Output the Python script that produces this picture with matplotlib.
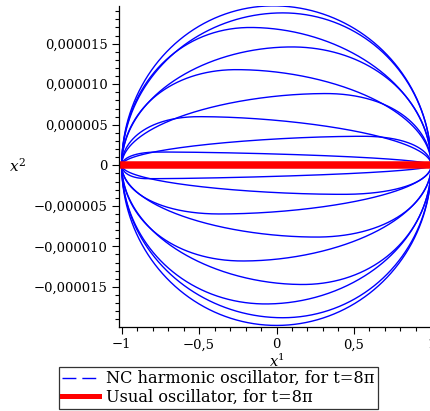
# coding: utf-8

# Imports
import matplotlib
matplotlib.use("Agg")
import matplotlib.pyplot as plt
from matplotlib.lines import Line2D
from matplotlib.ticker import MultipleLocator, FuncFormatter
import numpy as np

plt.rcParams['font.family'] = 'DejaVu Serif'
plt.rcParams['mathtext.fontset'] = 'dejavuserif'

# Arcs of the NC oscillator orbit: peak height (x2) and where it sits along x1
upper_amp = [1.967e-5, 1.88e-5, 1.70e-5, 1.46e-5, 1.18e-5, 0.885e-5, 0.60e-5, 0.358e-5, 0.164e-5]
upper_peak = [-0.02, 0.04, -0.17, 0.10, -0.26, 0.32, -0.50, 0.56, -0.76]
lower_amp = [-1.975e-5, -1.88e-5, -1.71e-5, -1.47e-5, -1.18e-5, -0.885e-5, -0.60e-5, -0.358e-5, -0.165e-5]
lower_peak = [0.0, 0.04, -0.07, 0.17, -0.22, 0.26, -0.37, 0.43, -0.83]

# Usual oscillator: straight line along x1
usual_x = [-1.0, 1.0]
usual_y = [0.0, 0.0]

W, H = 430, 411
fig = plt.figure(figsize=(W / 100, H / 100), dpi=100, facecolor='white')
ax = fig.add_axes([119 / W, 1 - 327.3 / H, 312.3 / W, 321.3 / H])

s = np.linspace(0.0, np.pi, 500)
for amp, peak in zip(upper_amp + lower_amp, upper_peak + lower_peak):
    sp = np.arccos(peak)
    w = np.where(s <= sp, 0.5 * np.pi * s / sp,
                 0.5 * np.pi + 0.5 * np.pi * (s - sp) / (np.pi - sp))
    ax.plot(np.cos(s), amp * np.sin(w), color='#0000ff', lw=1.0)

ax.plot(usual_x, usual_y, color='#ff0000', lw=5.4, solid_capstyle='projecting')

ax.set_xlim(-1.0175, 1.0)
ax.set_ylim(-1.998e-5, 1.965e-5)

for side in ['top', 'right']:
    ax.spines[side].set_visible(False)
for side in ['left', 'bottom']:
    ax.spines[side].set_linewidth(0.9)

ax.xaxis.set_major_locator(MultipleLocator(0.5))
ax.xaxis.set_minor_locator(MultipleLocator(0.1))
ax.yaxis.set_major_locator(MultipleLocator(5e-6))
ax.yaxis.set_minor_locator(MultipleLocator(1e-6))


def fmt_x(v, pos):
    if abs(v) < 1e-9:
        return "0"
    return ("%g" % v).replace('.', ',').replace('-', '\u2212')


def fmt_y(v, pos):
    if abs(v) < 1e-12:
        return "0"
    return ("%.6f" % v).replace('.', ',').replace('-', '\u2212')


ax.xaxis.set_major_formatter(FuncFormatter(fmt_x))
ax.yaxis.set_major_formatter(FuncFormatter(fmt_y))
ax.tick_params(which='major', direction='out', length=5, width=0.8, labelsize=9.5, pad=3)
ax.tick_params(which='minor', direction='out', length=3, width=0.8)

fig.text(18 / W, 1 - 166 / H, r'$x^2$', fontsize=11, ha='center', va='center')
fig.text(276.7 / W, 1 - 361 / H, r'$x^1$', fontsize=10.5, ha='center', va='center')

handles = [Line2D([], [], color='#0000ff', lw=1.0, ls=(0, (10, 4.3))),
           Line2D([], [], color='#ff0000', lw=3.6)]
labels = ["NC harmonic oscillator, for t=8\u03c0", "Usual oscillator, for t=8\u03c0"]
leg = fig.legend(handles, labels, loc='lower left', bbox_to_anchor=(59 / W, 1 - 409 / H),
                 fontsize=11.6, frameon=True, fancybox=False, edgecolor='black',
                 borderaxespad=0, borderpad=0.2, handlelength=2.3, handletextpad=0.42,
                 labelspacing=0.1)
leg.get_frame().set_linewidth(0.9)

plt.savefig("out.png", dpi=100)
